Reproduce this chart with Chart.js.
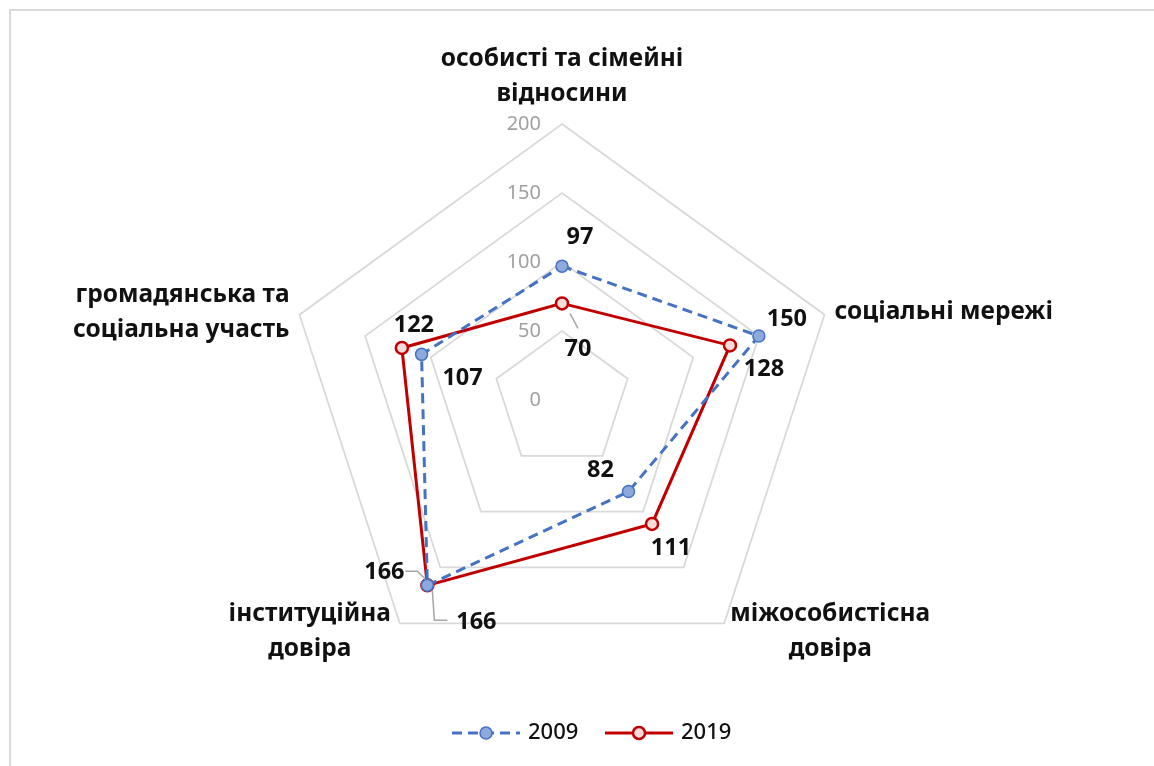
<!DOCTYPE html>
<html>
<head>
<meta charset="utf-8">
<script src="https://cdn.jsdelivr.net/npm/chart.js@4.4.1/dist/chart.umd.min.js"></script>
<style>
    html, body { margin: 0; padding: 0; background: #fff; }
    #frame { position: absolute; left: 9px; top: 9px; width: 1160px; height: 760px;
             border-top: 2px solid #d9d9d9; border-left: 2px solid #d9d9d9; }
    #chartbox { position: absolute; left: 0; top: 0; }
</style>
</head>
<body>
<div id="frame"></div>
<div id="chartbox"><canvas id="radarchart" width="1154" height="766"></canvas></div>
<script>
// categories (each one a list of lines)
const categories = [
    ["особисті та сімейні", "відносини"],
    ["соціальні мережі"],
    ["міжособистісна", "довіра"],
    ["інституційна", "довіра"],
    ["громадянська та", "соціальна участь"],
];
const series_names = ["2009", "2019"];
const values_2009 = [97, 150, 82, 166, 107];
const values_2019 = [70, 128, 111, 166, 122];
const tick_values = [0, 50, 100, 150, 200];

const font_family = "'Noto Sans', 'Open Sans', sans-serif";

// where each category label goes, relative to the outer vertex
const category_label_style = [
    { dx: 0, dy: -47, align: "center" },
    { dx: 10, dy: -3, align: "left" },
    { dx: 106, dy: 8, align: "center" },
    { dx: -90, dy: 8, align: "center" },
    { dx: -10, dy: -2, align: "right" },
];

// value label offsets from the point, per dataset
const value_label_style = [
    [{ dx: 18, dy: -29 }, { dx: 28, dy: -17 }, { dx: -28, dy: -21 }, { dx: -43, dy: -13 }, { dx: 41, dy: 24 }],
    [{ dx: 16, dy: 46 }, { dx: 34, dy: 24 }, { dx: 19, dy: 24 }, { dx: 49, dy: 37 }, { dx: 12, dy: -23 }],
];

// leader lines, in the same offsets as above (only some labels have one)
const leader_lines = [
    { ds: 1, i: 0, pts: [[8, 10], [16, 25]] },
    { ds: 0, i: 3, pts: [[-22, -14], [-10, -14], [-2, -6]] },
    { ds: 1, i: 3, pts: [[5, 5], [7, 35], [20, 35]] },
];

const gridColor = "#d9d9d9";

const radarLabelsPlugin = {
    id: "radarLabels",
    afterDatasetsDraw(chart) {
        const ctx = chart.ctx;
        const scale = chart.scales.r;
        ctx.save();

        // tick labels along the vertical axis
        ctx.font = "20px " + font_family;
        ctx.fillStyle = "#a0a0a0";
        ctx.textAlign = "right";
        ctx.textBaseline = "middle";
        tick_values.forEach((v) => {
            const d = scale.getDistanceFromCenterForValue(v);
            ctx.fillText(String(v), scale.xCenter - 21, scale.yCenter - d);
        });

        // leader lines
        ctx.strokeStyle = "#a6a6a6";
        ctx.lineWidth = 1.5;
        leader_lines.forEach((l) => {
            const el = chart.getDatasetMeta(l.ds).data[l.i];
            ctx.beginPath();
            l.pts.forEach((p, k) => {
                if (k == 0) ctx.moveTo(el.x + p[0], el.y + p[1]);
                else ctx.lineTo(el.x + p[0], el.y + p[1]);
            });
            ctx.stroke();
        });

        // value labels
        ctx.font = "bold 23.5px " + font_family;
        ctx.fillStyle = "#111";
        ctx.textAlign = "center";
        chart.data.datasets.forEach((ds, di) => {
            const meta = chart.getDatasetMeta(di);
            meta.data.forEach((el, i) => {
                const s = value_label_style[di][i];
                ctx.fillText(String(ds.data[i]), el.x + s.dx, el.y + s.dy);
            });
        });

        // category labels
        ctx.font = "bold 24.5px " + font_family;
        ctx.fillStyle = "#111";
        categories.forEach((lines, i) => {
            const p = scale.getPointPosition(i, scale.drawingArea);
            const s = category_label_style[i];
            const lh = 35;
            const top = p.y + s.dy - (lines.length - 1) * lh / 2;
            ctx.textAlign = s.align;
            lines.forEach((t, k) => {
                ctx.fillText(t, p.x + s.dx, top + k * lh);
            });
        });

        // legend
        ctx.font = "500 22px " + font_family;
        ctx.textAlign = "left";
        const ly = 733;
        const legend_x = [452, 605];
        chart.data.datasets.forEach((ds, di) => {
            const x0 = legend_x[di];
            ctx.strokeStyle = ds.borderColor;
            ctx.lineWidth = ds.borderWidth;
            ctx.setLineDash(ds.borderDash || []);
            ctx.beginPath();
            ctx.moveTo(x0, ly);
            ctx.lineTo(x0 + 68, ly);
            ctx.stroke();
            ctx.setLineDash([]);
            ctx.beginPath();
            ctx.arc(x0 + 34, ly, ds.pointRadius, 0, Math.PI * 2);
            ctx.fillStyle = ds.pointBackgroundColor;
            ctx.fill();
            ctx.lineWidth = ds.pointBorderWidth;
            ctx.strokeStyle = ds.pointBorderColor;
            ctx.stroke();
            ctx.fillStyle = "#111";
            ctx.fillText(ds.label, x0 + 76, ly);
        });
        ctx.restore();
    },
};

function getRadarConfig() {
    return {
        type: "radar",
        data: {
            labels: categories,
            datasets: [
                {
                    label: series_names[0],
                    data: values_2009,
                    borderColor: "#4472C4",
                    borderWidth: 3,
                    borderDash: [10, 6],
                    backgroundColor: "transparent",
                    fill: false,
                    pointRadius: 6,
                    pointBackgroundColor: "#8EA9DB",
                    pointBorderColor: "#4472C4",
                    pointBorderWidth: 1.5,
                },
                {
                    label: series_names[1],
                    data: values_2019,
                    borderColor: "#C00000",
                    borderWidth: 3,
                    backgroundColor: "transparent",
                    fill: false,
                    pointRadius: 6,
                    pointBackgroundColor: "#F8DCDC",
                    pointBorderColor: "#C00000",
                    pointBorderWidth: 2.5,
                },
            ],
        },
        options: {
            responsive: false,
            animation: false,
            layout: { padding: { left: 286, right: 316, top: 100, bottom: 66 } },
            plugins: { legend: { display: false }, tooltip: { enabled: false } },
            elements: { line: { tension: 0 } },
            scales: {
                r: {
                    min: 0,
                    max: 200,
                    ticks: { display: false, stepSize: 50 },
                    grid: { color: gridColor, lineWidth: 1.8 },
                    angleLines: { display: false },
                    pointLabels: { display: false },
                },
            },
        },
        plugins: [radarLabelsPlugin],
    };
}

new Chart(document.getElementById("radarchart"), getRadarConfig());
</script>
</body>
</html>
